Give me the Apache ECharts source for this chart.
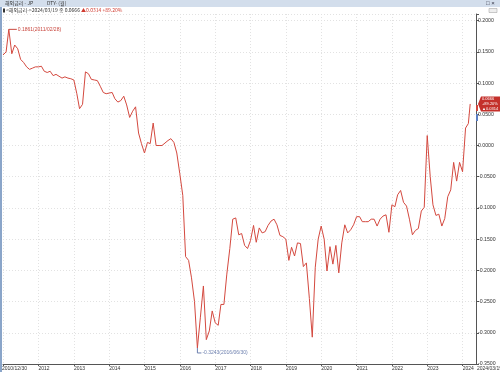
<!DOCTYPE html>
<html><head><meta charset="utf-8">
<script src="https://cdn.jsdelivr.net/npm/echarts@6/dist/echarts.min.js"></script>
<style>html,body{margin:0;padding:0;background:#fff}#c{width:500px;height:372px}</style>
</head><body><div id="c"></div>
<script>
// ---- data ----
const months = [
 '2010/12/30',
 '2011/01','2011/02','2011/03','2011/04','2011/05','2011/06','2011/07','2011/08','2011/09','2011/10','2011/11','2011/12',
 '2012/01','2012/02','2012/03','2012/04','2012/05','2012/06','2012/07','2012/08','2012/09','2012/10','2012/11','2012/12',
 '2013/01','2013/02','2013/03','2013/04','2013/05','2013/06','2013/07','2013/08','2013/09','2013/10','2013/11','2013/12',
 '2014/01','2014/02','2014/03','2014/04','2014/05','2014/06','2014/07','2014/08','2014/09','2014/10','2014/11','2014/12',
 '2015/01','2015/02','2015/03','2015/04','2015/05','2015/06','2015/07','2015/08','2015/09','2015/10','2015/11','2015/12',
 '2016/01','2016/02','2016/03','2016/04','2016/05','2016/06','2016/07','2016/08','2016/09','2016/10','2016/11','2016/12',
 '2017/01','2017/02','2017/03','2017/04','2017/05','2017/06','2017/07','2017/08','2017/09','2017/10','2017/11','2017/12',
 '2018/01','2018/02','2018/03','2018/04','2018/05','2018/06','2018/07','2018/08','2018/09','2018/10','2018/11','2018/12',
 '2019/01','2019/02','2019/03','2019/04','2019/05','2019/06','2019/07','2019/08','2019/09','2019/10','2019/11','2019/12',
 '2020/01','2020/02','2020/03','2020/04','2020/05','2020/06','2020/07','2020/08','2020/09','2020/10','2020/11','2020/12',
 '2021/01','2021/02','2021/03','2021/04','2021/05','2021/06','2021/07','2021/08','2021/09','2021/10','2021/11','2021/12',
 '2022/01','2022/02','2022/03','2022/04','2022/05','2022/06','2022/07','2022/08','2022/09','2022/10','2022/11','2022/12',
 '2023/01','2023/02','2023/03','2023/04','2023/05','2023/06','2023/07','2023/08','2023/09','2023/10','2023/11','2023/12',
 '2024/01','2024/02','2024/03/19'
];
const values = [
 0.145,
 0.150,0.1861,0.147,0.161,0.155,0.138,0.133,0.126,0.122,0.124,0.126,0.126,
 0.127,0.119,0.117,0.119,0.112,0.114,0.111,0.108,0.110,0.108,0.107,0.105,
 0.083,0.059,0.066,0.118,0.115,0.106,0.105,0.104,0.095,0.085,0.083,0.084,
 0.085,0.075,0.0696,0.072,0.079,0.065,0.045,0.055,0.062,0.020,0.003,-0.012,
 0.005,0.003,0.036,0.000,0.000,0.000,0.004,0.008,0.011,0.005,-0.012,-0.045,
 -0.080,-0.178,-0.184,-0.212,-0.250,-0.3243,-0.275,-0.225,-0.311,-0.297,-0.265,-0.284,
 -0.288,-0.2546,-0.2546,-0.206,-0.165,-0.118,-0.116,-0.143,-0.141,-0.160,-0.165,-0.152,
 -0.128,-0.155,-0.132,-0.140,-0.138,-0.128,-0.121,-0.118,-0.127,-0.144,-0.146,-0.150,
 -0.184,-0.163,-0.177,-0.156,-0.157,-0.194,-0.188,-0.245,-0.307,-0.195,-0.150,-0.129,
 -0.150,-0.201,-0.162,-0.190,-0.160,-0.204,-0.156,-0.127,-0.140,-0.135,-0.127,-0.114,
 -0.114,-0.122,-0.122,-0.122,-0.118,-0.118,-0.129,-0.118,-0.113,-0.111,-0.139,-0.095,
 -0.098,-0.079,-0.072,-0.091,-0.097,-0.118,-0.143,-0.136,-0.133,-0.105,-0.099,0.016,
 -0.050,-0.095,-0.112,-0.110,-0.129,-0.117,-0.082,-0.071,-0.027,-0.057,-0.027,-0.042,
 0.028,0.0352,0.0666
];
const yMin = -0.35, yMax = 0.2107, yStep = 0.05;
const maxNote = {date: '2011/02', value: 0.1861, text: '0.1861(2011/02/28)'};
const minNote = {date: '2016/06', value: -0.3243, text: '-0.3243(2016/06/30)'};
const headerTitle = '해외금리 - JP', headerSub = 'DTY- (월)';
const lastInfo = {label: '<해외금리->2024/03/19 종 0.0666 ', chg: '▲0.0314', pct: '+89.20%'};
const tagLines = ['0.0666', '+89.20%', '▲0.0314'];
const startLabel = '2010/12/30', endLabel = '2024/03/19';

// ---- helpers ----
function toTime(s){ const p = s.split('/').map(Number);
  return p.length === 3 ? new Date(p[0], p[1]-1, p[2]).getTime() : new Date(p[0], p[1], 0).getTime(); }
const seriesData = months.map((m,i)=>[toTime(m), values[i]]);
const RED = '#d4493f', NUMF = 'Liberation Sans', KRF = '"Noto Sans CJK KR"';
const YEAR = 365*24*3600*1000;
const xMaxT = new Date(2024,4,18).getTime();

const chart = echarts.init(document.getElementById('c'), null, {renderer:'canvas'});
chart.setOption({
  animation:false,
  backgroundColor:'#fff',
  grid:{left:3, right:24, top:14, bottom:8, containLabel:false},
  xAxis:{type:'time', min:toTime('2010/12/30'), max:xMaxT,
    minInterval:YEAR, maxInterval:YEAR+86400000*2,
    axisLine:{show:true, onZero:false, lineStyle:{color:'#555', width:1}},
    axisTick:{show:true, length:2, lineStyle:{color:'#555'}},
    axisLabel:{show:true, fontSize:5, fontFamily:NUMF, color:'#333', margin:2, align:'left',
      formatter:function(v){ const y = new Date(v).getFullYear(); return (y===2011)?'':String(y); }},
    splitLine:{show:true, lineStyle:{color:'#e2e2e2', type:[1,2], width:1}}
  },
  yAxis:{type:'value', position:'right', min:yMin, max:yMax, interval:yStep,
    axisLine:{show:true, onZero:false, lineStyle:{color:'#555', width:1}},
    axisTick:{show:true, length:3, lineStyle:{color:'#555'}},
    axisLabel:{fontSize:5.2, fontFamily:NUMF, color:'#333', margin:2,
      formatter:function(v){ const r = v/yStep; if (Math.abs(r-Math.round(r))>1e-6) return '';
        if (Math.abs(v)<1e-9) v = 0; return v.toFixed(4); }},
    splitLine:{show:true, lineStyle:{color:'#e2e2e2', type:[1,2], width:1}}
  },
  series:[{type:'line', data:seriesData, showSymbol:false, symbol:'none',
    lineStyle:{color:RED, width:1}, itemStyle:{color:RED}}]
});

function px(t, v){ return chart.convertToPixel({gridIndex:0}, [t, v]); }
const pMax = px(toTime(maxNote.date), maxNote.value);
const pMin = px(toTime(minNote.date), minNote.value);
const last = seriesData[seriesData.length-1];
const pLast = px(last[0], last[1]);
const pStart = px(seriesData[0][0], yMin);
const gridRight = px(xMaxT, yMin);

const g = [
  {type:'rect', shape:{x:0,y:0,width:500,height:7}, style:{fill:'#d3deec'}, z:10},
  {type:'text', x:5, y:3.5, style:{text:headerTitle, font:'5px '+KRF, fill:'#333', verticalAlign:'middle'}, z:11},
  {type:'text', x:47, y:3.5, style:{text:headerSub, font:'5px '+KRF, fill:'#333', verticalAlign:'middle'}, z:11},
  {type:'text', x:486, y:3.5, style:{text:'□ ×', font:'6px '+NUMF, fill:'#334', verticalAlign:'middle'}, z:11},
  {type:'rect', shape:{x:0,y:7,width:2,height:365}, style:{fill:'#8aa5c9'}, z:10},
  {type:'rect', shape:{x:3,y:8.5,width:2,height:4}, style:{fill:'#333'}, z:10},
  {type:'text', x:6, y:10.5, style:{
    text:'{a|'+lastInfo.label+'}{b|'+lastInfo.chg+'}{c| '+lastInfo.pct+'}',
    rich:{a:{font:'5px '+KRF, fill:'#333'}, b:{font:'5px '+KRF, fill:'#d03a2f'}, c:{font:'5px '+KRF, fill:'#d03a2f'}},
    verticalAlign:'middle'}, z:11},
  {type:'rect', shape:{x:489,y:8.5,width:8,height:4}, style:{fill:'#eee', stroke:'#999', lineWidth:0.5}, z:10},
  // max annotation
  {type:'polyline', shape:{points:[[pMax[0],pMax[1]],[pMax[0]+8,pMax[1]]]}, style:{stroke:'#c9473e', lineWidth:1}, z:12},
  {type:'text', x:pMax[0]+9, y:pMax[1], style:{text:maxNote.text, font:'5px '+NUMF, fill:'#c9473e', verticalAlign:'middle'}, z:12},
  // min annotation
  {type:'polyline', shape:{points:[[pMin[0],pMin[1]],[pMin[0],pMin[1]+5],[pMin[0]+4,pMin[1]+5]]}, style:{stroke:'#6c7fae', lineWidth:1}, z:12},
  {type:'text', x:pMin[0]+5, y:pMin[1]+5, style:{text:minNote.text, font:'5px '+NUMF, fill:'#6c7fae', verticalAlign:'middle'}, z:12},
  // last value tag on the right axis
  {type:'polygon', shape:{points:[[gridRight[0]+2,pLast[1]],[gridRight[0]+5,pLast[1]-7.5],[500,pLast[1]-7.5],[500,pLast[1]+7.5],[gridRight[0]+5,pLast[1]+7.5]]}, style:{fill:'#c4302b'}, z:20},
  {type:'text', x:gridRight[0]+6, y:pLast[1], style:{text:tagLines.join('\n'), font:'4px '+NUMF, lineHeight:4.6, fill:'#fff', verticalAlign:'middle'}, z:21},
  {type:'rect', shape:{x:gridRight[0], y:pLast[1]+1, width:2, height:6}, style:{fill:'#d2473d'}, z:19},
  {type:'rect', shape:{x:gridRight[0], y:pLast[1]+10, width:2, height:7}, style:{fill:'#5b7fc4'}, z:19},
  // start / end date labels on the time axis
  {type:'text', x:pStart[0]-1, y:pStart[1]+2, style:{text:startLabel, font:'5px '+NUMF, fill:'#333', verticalAlign:'top'}, z:12},
  {type:'text', x:gridRight[0]+1, y:gridRight[1]+2, style:{text:endLabel, font:'5px '+NUMF, fill:'#333', verticalAlign:'top'}, z:12}
];
chart.setOption({graphic:g});
</script></body></html>
